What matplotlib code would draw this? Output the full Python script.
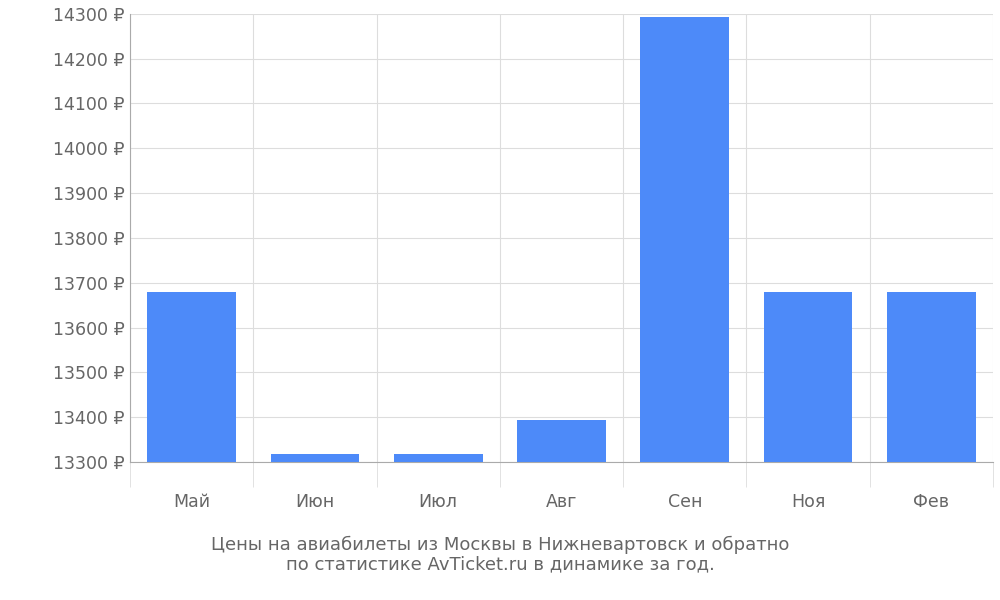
import matplotlib
matplotlib.use("Agg")
import matplotlib.pyplot as plt
import numpy as np

months = ["Май", "Июн", "Июл", "Авг", "Сен", "Ноя", "Фев"]
prices = [13680, 13317, 13317, 13393, 14293, 13680, 13680]
y_ticks = list(range(13300, 14301, 100))

fig = plt.figure(figsize=(10, 6), dpi=100)
ax = fig.add_axes([0.13, 0.23, 0.863, 0.747])

x = np.arange(len(months))
ax.bar(x, np.array(prices) - 13300, bottom=13300, width=0.72, color="#4d8af9", zorder=3)

ax.set_xlim(-0.5, len(months) - 0.5)
ax.set_ylim(13300, 14300)
ax.set_yticks(y_ticks)
ax.set_yticklabels([f"{v} ₽" for v in y_ticks], fontsize=12.5, color="#666666")
ax.set_xticks(x)
ax.set_xticklabels(months, fontsize=12.5, color="#666666")
ax.set_xticks(np.arange(-0.5, len(months)), minor=True)
ax.tick_params(axis="x", which="major", length=0, pad=22)
ax.tick_params(axis="x", which="minor", length=18, color="#dddddd")
ax.tick_params(axis="y", length=0, pad=4)
ax.grid(True, axis="y", color="#dddddd", zorder=0)
ax.grid(True, axis="x", which="minor", color="#dddddd", zorder=0)

for s in ["top", "right"]:
    ax.spines[s].set_visible(False)
ax.spines["left"].set_color("#aaaaaa")
ax.spines["bottom"].set_color("#aaaaaa")

fig.text(0.5, 0.045, "Цены на авиабилеты из Москвы в Нижневартовск и обратно\nпо статистике AvTicket.ru в динамике за год.",
         ha="center", va="bottom", fontsize=13, color="#666666", linespacing=1.1)

fig.savefig("out.png")
